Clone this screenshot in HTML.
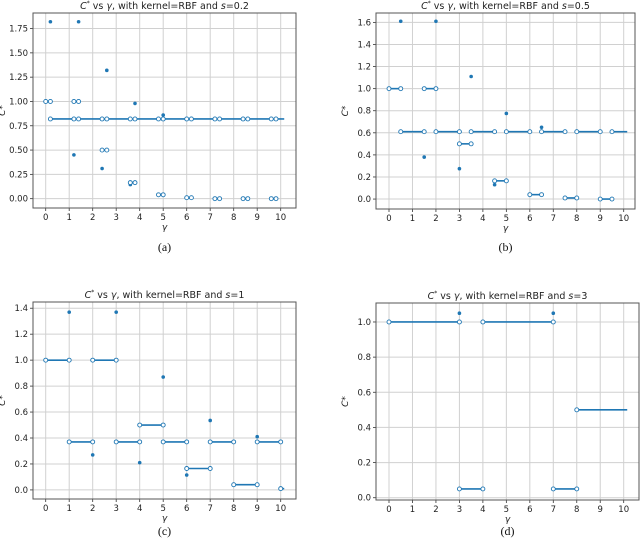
<!DOCTYPE html>
<html><head><meta charset="utf-8"><style>
html,body{margin:0;padding:0;background:#fff;}
svg{display:block;font-family:"DejaVu Sans","Liberation Sans",sans-serif;}
</style></head><body>
<svg id="fig" width="640" height="547" viewBox="0 0 640 547" xmlns="http://www.w3.org/2000/svg"></svg>
<script>
// ---- data ----
const xTicks = [0,1,2,3,4,5,6,7,8,9,10];
const titlesS = ["0.2","0.5","1","3"];
const captions = ["(a)","(b)","(c)","(d)"];
const yTicksA = [0,0.25,0.5,0.75,1.0,1.25,1.5,1.75];
const yTicksB = [0,0.2,0.4,0.6,0.8,1.0,1.2,1.4,1.6];
const yTicksC = [0,0.2,0.4,0.6,0.8,1.0,1.2,1.4];
const yTicksD = [0,0.2,0.4,0.6,0.8,1.0];
const yLabelsA = ["0.00","0.25","0.50","0.75","1.00","1.25","1.50","1.75"];
// segments: [x0, x1, y, hasEndCircle]
const segA = [[0,0.2,1,1],[0.2,1.2,0.82,1],[1.2,1.4,1,1],[1.4,2.4,0.82,1],[2.4,2.6,0.5,1],[2.6,3.6,0.82,1],[3.6,3.8,0.165,1],[3.8,4.8,0.82,1],[4.8,5.0,0.04,1],[5.0,6.0,0.82,1],[6.0,6.2,0.01,1],[6.2,7.2,0.82,1],[7.2,7.4,0,1],[7.4,8.4,0.82,1],[8.4,8.6,0,1],[8.6,9.6,0.82,1],[9.6,9.8,0,1],[9.8,10.15,0.82,0]];
const ptsA = [[0.2,1.82],[1.2,0.45],[1.4,1.82],[2.4,0.31],[2.6,1.32],[3.6,0.145],[3.8,0.98],[4.8,0.04],[5.0,0.86],[6.0,0.01],[6.2,0.825],[7.2,0],[8.4,0],[9.6,0]];
const segB = [[0,0.5,1,1],[0.5,1.5,0.61,1],[1.5,2,1,1],[2,3,0.61,1],[3,3.5,0.5,1],[3.5,4.5,0.61,1],[4.5,5,0.165,1],[5,6,0.61,1],[6,6.5,0.04,1],[6.5,7.5,0.61,1],[7.5,8,0.01,1],[8,9,0.61,1],[9,9.5,0,1],[9.5,10.15,0.61,0]];
const ptsB = [[0.5,1.61],[1.5,0.38],[2,1.61],[3,0.275],[3.5,1.11],[4.5,0.13],[5,0.775],[6,0.04],[6.5,0.65],[7.5,0.01],[8,0.615],[9,0],[9.5,0.61]];
const segC = [[0,1,1,1],[1,2,0.37,1],[2,3,1,1],[3,4,0.37,1],[4,5,0.5,1],[5,6,0.37,1],[6,7,0.165,1],[7,8,0.37,1],[8,9,0.04,1],[9,10,0.37,1],[10,10.15,0.01,0]];
const ptsC = [[1,1.37],[2,0.27],[3,1.37],[4,0.21],[5,0.87],[6,0.115],[7,0.535],[8,0.04],[9,0.41],[10,0.01]];
const segD = [[0,3,1,1],[3,4,0.05,1],[4,7,1,1],[7,8,0.05,1],[8,10.15,0.5,0]];
const ptsD = [[3,1.05],[4,0.05],[7,1.05],[8,0.05]];

const NS="http://www.w3.org/2000/svg";
const svg=document.getElementById('fig');
function mk(tag,attrs,parent){const e=document.createElementNS(NS,tag);for(const k in attrs)e.setAttribute(k,attrs[k]);(parent||svg).appendChild(e);return e;}
const C="#1f77b4";
const panels=[
 {L:33,R:296,T:13,B:208,x0px:45.7,x10px:280.7,ymin:-0.096,ymax:1.91,yt:yTicksA,yl:yLabelsA,seg:segA,pts:ptsA,cap:247},
 {L:376,R:635,T:13,B:209,x0px:389,x10px:623.7,ymin:-0.09,ymax:1.685,yt:yTicksB,yl:yTicksB.map(v=>v.toFixed(1)),seg:segB,pts:ptsB,cap:247},
 {L:33,R:296,T:302,B:499,x0px:45.7,x10px:280.7,ymin:-0.07,ymax:1.448,yt:yTicksC,yl:yTicksC.map(v=>v.toFixed(1)),seg:segC,pts:ptsC,cap:531},
 {L:376,R:639,T:303,B:500,x0px:389,x10px:623.7,ymin:-0.013,ymax:1.108,yt:yTicksD,yl:yTicksD.map(v=>v.toFixed(1)),seg:segD,pts:ptsD,cap:531}
];
panels.forEach((p,i)=>{
 const g=mk('g',{});
 
 
 const xs=v=>p.x0px+(p.x10px-p.x0px)*v/10;
 const ys=v=>p.B-(v-p.ymin)/(p.ymax-p.ymin)*(p.B-p.T);
 // grid
 xTicks.forEach(t=>{
  const l=mk('line',{x1:xs(t),x2:xs(t),y1:p.T,y2:p.B,stroke:"#d0d0d0","stroke-width":1},g);
  
  
  mk('line',{x1:xs(t),x2:xs(t),y1:p.B,y2:p.B+3,stroke:"#333","stroke-width":0.8},g);
  const tx=mk('text',{x:xs(t),y:p.B+12,"font-size":8.5,"text-anchor":"middle",fill:"#222"},g);
  tx.textContent=t;
  
  
 });
 p.yt.forEach((t,j)=>{
  const l=mk('line',{x1:p.L,x2:p.R,y1:ys(t),y2:ys(t),stroke:"#d0d0d0","stroke-width":1},g);
  
  
  mk('line',{x1:p.L-3,x2:p.L,y1:ys(t),y2:ys(t),stroke:"#333","stroke-width":0.8},g);
  const tx=mk('text',{x:p.L-5,y:ys(t)+3,"font-size":8.5,"text-anchor":"end",fill:"#222"},g);
  tx.textContent=p.yl[j];
  
  
 });
 const fr=mk('rect',{x:p.L,y:p.T,width:p.R-p.L,height:p.B-p.T,fill:"none",stroke:"#555","stroke-width":1},g);
 
 
 // segments
 p.seg.forEach(s=>{
  const l=mk('line',{x1:xs(s[0]),x2:xs(s[1]),y1:ys(s[2]),y2:ys(s[2]),stroke:C,"stroke-width":1.6},g);
  
  
 });
 p.pts.forEach(q=>{
  const c=mk('circle',{cx:xs(q[0]),cy:ys(q[1]),r:1.8,fill:C},g);
  
  
 });
 p.seg.forEach(s=>{
  [s[0]].concat(s[3]?[s[1]]:[]).forEach(xv=>{
   const c=mk('circle',{cx:xs(xv),cy:ys(s[2]),r:2,fill:"#fff",stroke:C,"stroke-width":0.9},g);
   
   
  });
 });
 const cx=(p.L+p.R)/2;
 const ti=mk('text',{x:cx,y:p.T-4,"font-size":9.5,"text-anchor":"middle",fill:"#222"},g);
 ti.innerHTML='<tspan font-style="italic">C</tspan><tspan font-size="6" dy="-4">*</tspan><tspan dy="4"> vs </tspan><tspan font-style="italic">γ</tspan>, with kernel=RBF and <tspan font-style="italic">s</tspan>='+titlesS[i];
 
 
 const xl=mk('text',{x:cx,y:p.B+22,"font-size":9,"text-anchor":"middle","font-style":"italic",fill:"#222"},g);
 xl.textContent='γ';
 
 
 const yl=mk('text',{x:0,y:0,"font-size":9,"text-anchor":"middle","font-style":"italic",fill:"#222",transform:`translate(${p.L-28},${(p.T+p.B)/2}) rotate(-90)`},g);
 yl.textContent='C*';
 
 
 const cp=mk('text',{x:cx,y:p.cap+4,"font-size":12,"text-anchor":"middle","font-family":"Liberation Serif, serif",fill:"#111"},g);
 cp.textContent=captions[i];
 
 
});
</script>
</body></html>
